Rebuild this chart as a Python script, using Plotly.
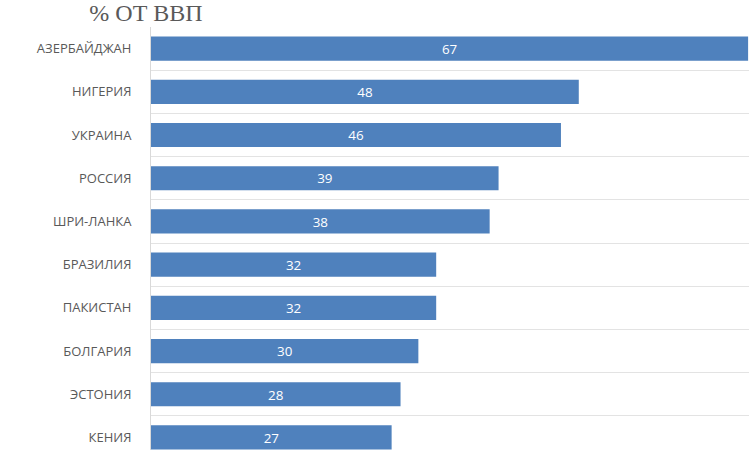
import plotly.graph_objects as go

countries = ["АЗЕРБАЙДЖАН", "НИГЕРИЯ", "УКРАИНА", "РОССИЯ", "ШРИ-ЛАНКА",
             "БРАЗИЛИЯ", "ПАКИСТАН", "БОЛГАРИЯ", "ЭСТОНИЯ", "КЕНИЯ"]
values = [67, 48, 46, 39, 38, 32, 32, 30, 28, 27]
title_text = "% ОТ ВВП"

fig = go.Figure(go.Bar(
    x=values, y=countries, orientation="h",
    marker=dict(color="#4F81BD", line=dict(width=0)),
    text=[str(v) for v in values],
    textposition="inside", insidetextanchor="middle", textangle=0,
    textfont=dict(family="Open Sans, sans-serif", size=14, color="white"),
    width=0.56,
))

fig.update_layout(
    width=749, height=450,
    margin=dict(l=151, r=0, t=27, b=0, autoexpand=False),
    paper_bgcolor="white", plot_bgcolor="white",
    showlegend=False,
    title=dict(text=title_text, xref="container", yref="container",
               x=146/749, xanchor="center", y=1-13/450, yanchor="middle",
               font=dict(family="'Liberation Serif', 'Times New Roman', serif", size=24, color="#595959")),
    xaxis=dict(range=[0, 67.1], visible=False, fixedrange=True),
    yaxis=dict(type="category", categoryorder="array", categoryarray=countries,
               range=[9.29, -0.5], showline=True, linecolor="#D9D9D9", linewidth=1,
               showgrid=True, gridcolor="#E3E3E3", gridwidth=1, tickson="boundaries",
               ticks="", ticklabelstandoff=16, automargin=False, fixedrange=True,
               tickfont=dict(family="Open Sans, sans-serif", size=13, color="#595959")),
)

fig.write_html("out.html", config={"displayModeBar": False},
               post_script="document.body.style.margin='0';document.body.style.overflow='hidden';")
